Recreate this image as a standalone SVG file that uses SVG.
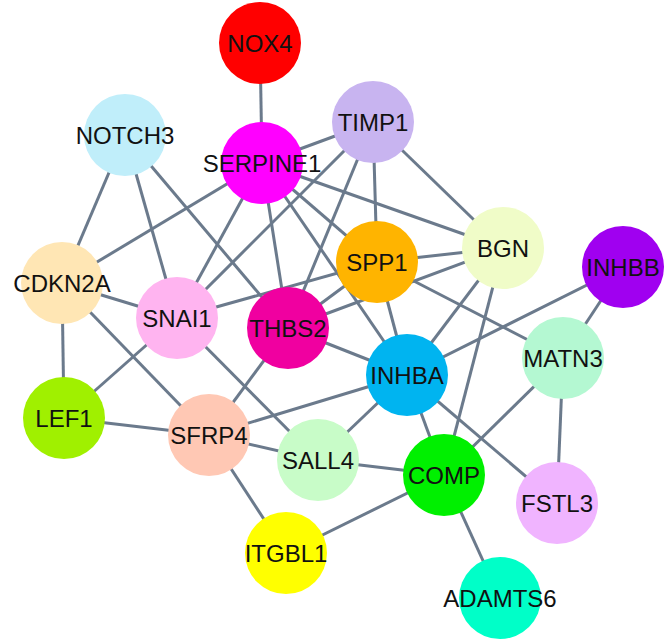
<svg xmlns="http://www.w3.org/2000/svg" width="669" height="639" viewBox="0 0 669 639">
<style>
.e{stroke:#6B7A8C;stroke-width:3;fill:none}
text{font-family:"Liberation Sans",Arial,sans-serif;font-size:24px;text-anchor:middle;dominant-baseline:central;fill:#111}
</style>
<rect width="669" height="639" fill="#fff"/>
<g id="edges" class="e">
<line x1="260" y1="43" x2="262" y2="163"/>
<line x1="262" y1="163" x2="373" y2="122"/>
<line x1="262" y1="163" x2="62" y2="283"/>
<line x1="262" y1="163" x2="177" y2="318"/>
<line x1="262" y1="163" x2="288" y2="328"/>
<line x1="262" y1="163" x2="377" y2="262"/>
<line x1="262" y1="163" x2="503" y2="248"/>
<line x1="262" y1="163" x2="407" y2="375"/>
<line x1="373" y1="122" x2="177" y2="318"/>
<line x1="373" y1="122" x2="288" y2="328"/>
<line x1="373" y1="122" x2="377" y2="262"/>
<line x1="373" y1="122" x2="503" y2="248"/>
<line x1="125" y1="135" x2="62" y2="283"/>
<line x1="125" y1="135" x2="177" y2="318"/>
<line x1="125" y1="135" x2="288" y2="328"/>
<line x1="377" y1="262" x2="177" y2="318"/>
<line x1="377" y1="262" x2="288" y2="328"/>
<line x1="377" y1="262" x2="503" y2="248"/>
<line x1="377" y1="262" x2="407" y2="375"/>
<line x1="377" y1="262" x2="563" y2="358"/>
<line x1="503" y1="248" x2="288" y2="328"/>
<line x1="503" y1="248" x2="407" y2="375"/>
<line x1="503" y1="248" x2="444" y2="475"/>
<line x1="623" y1="267" x2="407" y2="375"/>
<line x1="623" y1="267" x2="563" y2="358"/>
<line x1="62" y1="283" x2="177" y2="318"/>
<line x1="62" y1="283" x2="64" y2="418"/>
<line x1="62" y1="283" x2="209" y2="435"/>
<line x1="177" y1="318" x2="64" y2="418"/>
<line x1="177" y1="318" x2="318" y2="460"/>
<line x1="288" y1="328" x2="209" y2="435"/>
<line x1="288" y1="328" x2="407" y2="375"/>
<line x1="407" y1="375" x2="209" y2="435"/>
<line x1="407" y1="375" x2="318" y2="460"/>
<line x1="407" y1="375" x2="444" y2="475"/>
<line x1="407" y1="375" x2="557" y2="503"/>
<line x1="563" y1="358" x2="444" y2="475"/>
<line x1="563" y1="358" x2="557" y2="503"/>
<line x1="64" y1="418" x2="209" y2="435"/>
<line x1="209" y1="435" x2="318" y2="460"/>
<line x1="209" y1="435" x2="286" y2="553"/>
<line x1="318" y1="460" x2="444" y2="475"/>
<line x1="444" y1="475" x2="286" y2="553"/>
<line x1="444" y1="475" x2="500" y2="598"/>
</g>
<g id="NOX4"><circle cx="260" cy="43" r="41" fill="#FF0000"/><text x="260" y="43">NOX4</text></g>
<g id="NOTCH3"><circle cx="125" cy="135" r="41" fill="#C0EEFA"/><text x="125" y="135">NOTCH3</text></g>
<g id="TIMP1"><circle cx="373" cy="122" r="41" fill="#C8B4F0"/><text x="373" y="122">TIMP1</text></g>
<g id="SERPINE1"><circle cx="262" cy="163" r="41" fill="#FF00FF"/><text x="262" y="163">SERPINE1</text></g>
<g id="BGN"><circle cx="503" cy="248" r="41" fill="#F0FCC8"/><text x="503" y="248">BGN</text></g>
<g id="SPP1"><circle cx="377" cy="262" r="41" fill="#FFB400"/><text x="377" y="262">SPP1</text></g>
<g id="INHBB"><circle cx="623" cy="267" r="41" fill="#A000F0"/><text x="623" y="267">INHBB</text></g>
<g id="CDKN2A"><circle cx="62" cy="283" r="41" fill="#FFE6B4"/><text x="62" y="283">CDKN2A</text></g>
<g id="SNAI1"><circle cx="177" cy="318" r="41" fill="#FFB4F0"/><text x="177" y="318">SNAI1</text></g>
<g id="THBS2"><circle cx="288" cy="328" r="41" fill="#F000A0"/><text x="288" y="328">THBS2</text></g>
<g id="MATN3"><circle cx="563" cy="358" r="41" fill="#B4F8D2"/><text x="563" y="358">MATN3</text></g>
<g id="INHBA"><circle cx="407" cy="375" r="41" fill="#00B4F0"/><text x="407" y="375">INHBA</text></g>
<g id="LEF1"><circle cx="64" cy="418" r="41" fill="#A0F000"/><text x="64" y="418">LEF1</text></g>
<g id="SFRP4"><circle cx="209" cy="435" r="41" fill="#FFC8B4"/><text x="209" y="435">SFRP4</text></g>
<g id="SALL4"><circle cx="318" cy="460" r="41" fill="#C8FCC8"/><text x="318" y="460">SALL4</text></g>
<g id="COMP"><circle cx="444" cy="475" r="41" fill="#00F000"/><text x="444" y="475">COMP</text></g>
<g id="FSTL3"><circle cx="557" cy="503" r="41" fill="#F0B4FF"/><text x="557" y="503">FSTL3</text></g>
<g id="ITGBL1"><circle cx="286" cy="553" r="41" fill="#FFFF00"/><text x="286" y="553">ITGBL1</text></g>
<g id="ADAMTS6"><circle cx="500" cy="598" r="41" fill="#00FFC8"/><text x="500" y="598">ADAMTS6</text></g>
</svg>
